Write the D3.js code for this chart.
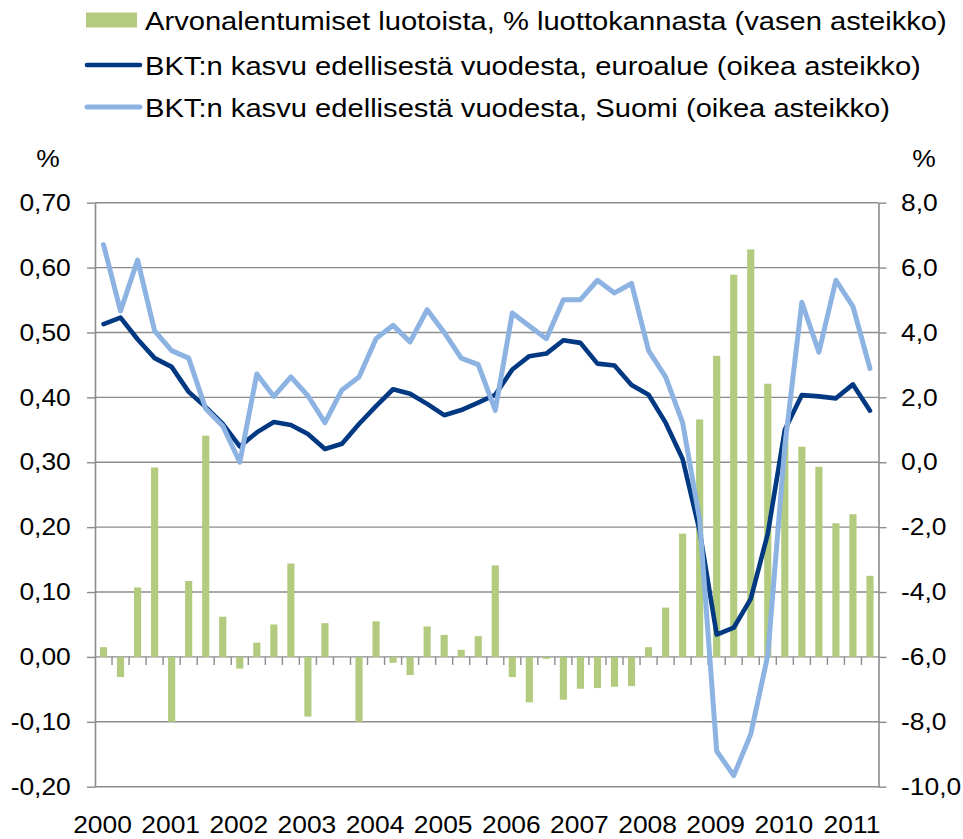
<!DOCTYPE html>
<html>
<head>
<meta charset="utf-8">
<script src="https://cdn.jsdelivr.net/npm/d3@7"></script>
<style>
  body { margin: 0; background: #fff; }
  text { font-family: "Liberation Sans", Arial, sans-serif; fill: #000; }
</style>
</head>
<body>
<div id="chart"></div>
<script>
var w = 963;
var h = 839;

// quarters 2000Q1 .. 2011Q2
var years = [2000, 2001, 2002, 2003, 2004, 2005, 2006, 2007, 2008, 2009, 2010, 2011];
var quarters = ["Q1", "Q2", "Q3", "Q4"];
var categories = years.flatMap(function(y) {
	return quarters.map(function(q) { return y + q; });
}).slice(0, 46);

// Arvonalentumiset luotoista, % luottokannasta (vasen asteikko)
var impairments = [0.015, -0.031, 0.107, 0.292, -0.100, 0.117, 0.341, 0.062,
	-0.018, 0.022, 0.050, 0.144, -0.092, 0.052, 0.000, -0.100,
	0.055, -0.009, -0.028, 0.047, 0.034, 0.011, 0.032, 0.141,
	-0.031, -0.070, -0.003, -0.066, -0.049, -0.048, -0.046, -0.045,
	0.015, 0.076, 0.190, 0.366, 0.464, 0.589, 0.628, 0.421,
	0.340, 0.324, 0.293, 0.206, 0.220, 0.125];

// BKT:n kasvu, euroalue (oikea asteikko)
var gdpEuro = [4.26, 4.46, 3.79, 3.21, 2.94, 2.17, 1.70, 1.18,
	0.49, 0.92, 1.24, 1.15, 0.87, 0.41, 0.57, 1.18,
	1.73, 2.25, 2.11, 1.80, 1.45, 1.61, 1.84, 2.08,
	2.86, 3.27, 3.35, 3.76, 3.68, 3.04, 2.98, 2.38,
	2.08, 1.22, 0.10, -2.12, -5.31, -5.10, -4.21, -2.20,
	1.00, 2.07, 2.03, 1.97, 2.40, 1.59];

// BKT:n kasvu, Suomi (oikea asteikko)
var gdpFinland = [6.71, 4.66, 6.23, 4.05, 3.44, 3.21, 1.65, 1.12,
	0.00, 2.72, 2.03, 2.63, 2.05, 1.22, 2.23, 2.63,
	3.81, 4.22, 3.71, 4.70, 4.00, 3.21, 3.01, 1.60,
	4.60, 4.20, 3.81, 5.01, 5.01, 5.61, 5.22, 5.51,
	3.44, 2.63, 1.22, -1.77, -8.90, -9.66, -8.38, -5.95,
	0.50, 4.93, 3.39, 5.61, 4.80, 2.89];

var leftTicks = [-0.2, -0.1, 0, 0.1, 0.2, 0.3, 0.4, 0.5, 0.6, 0.7];
var rightTicks = [-10, -8, -6, -4, -2, 0, 2, 4, 6, 8];

var legendLabels = [
	"Arvonalentumiset luotoista, % luottokannasta (vasen asteikko)",
	"BKT:n kasvu edellisestä vuodesta, euroalue (oikea asteikko)",
	"BKT:n kasvu edellisestä vuodesta, Suomi (oikea asteikko)"
];

var green = "#b3cb7f";
var darkBlue = "#003882";
var lightBlue = "#8db3e2";
var gridColor = "#8c8c8c";
var sx = 1.1; // text in the picture is a bit wide

var plotL = 95, plotR = 878.5, plotT = 202.7, plotB = 786.7;

var locale = d3.formatLocale({decimal: ",", thousands: " ", grouping: [3], currency: ["", ""], minus: "-"});
var fmtL = locale.format(".2f");
var fmtR = locale.format(".1f");

var x = d3.scaleBand()
	.domain(categories)
	.range([plotL, plotR])
	.paddingInner(0.58)
	.paddingOuter(0.29);
var step = x.step();

var yL = d3.scaleLinear().domain([-0.2, 0.7]).range([plotB, plotT]);
var yR = d3.scaleLinear().domain([-10, 8]).range([plotB, plotT]);

var svg = d3.select("#chart")
	.append("svg")
	.attr("width", w)
	.attr("height", h);

// gridlines
svg.append("g")
	.selectAll("line")
	.data(leftTicks)
	.enter()
	.append("line")
	.attr("x1", plotL)
	.attr("x2", plotR)
	.attr("y1", function(d) { return yL(d); })
	.attr("y2", function(d) { return yL(d); })
	.attr("stroke", gridColor)
	.attr("stroke-width", 1.4);

// bars
svg.append("g")
	.selectAll("rect")
	.data(impairments)
	.enter()
	.append("rect")
	.attr("x", function(d, i) { return x(categories[i]); })
	.attr("width", x.bandwidth())
	.attr("y", function(d) { return Math.min(yL(d), yL(0)); })
	.attr("height", function(d) { return Math.abs(yL(d) - yL(0)); })
	.attr("fill", green);

// category tick marks below the zero line
svg.append("g")
	.selectAll("line")
	.data(categories.slice(0, categories.length - 1))
	.enter()
	.append("line")
	.attr("x1", function(d) { return x(d) + x.bandwidth() / 2 + step / 2; })
	.attr("x2", function(d) { return x(d) + x.bandwidth() / 2 + step / 2; })
	.attr("y1", yL(0))
	.attr("y2", yL(0) + 8)
	.attr("stroke", gridColor)
	.attr("stroke-width", 1.4);

// year labels
svg.append("g")
	.selectAll("text")
	.data(years)
	.enter()
	.append("text")
	.attr("transform", function(d) {
		return "translate(" + (x(d + "Q1") + x.bandwidth() / 2 - 1) + ",833) scale(" + sx + ",1)";
	})
	.attr("text-anchor", "middle")
	.attr("font-size", "24px")
	.text(function(d) { return d; });

// axes
var axisL = svg.append("g")
	.attr("transform", "translate(" + plotL + ",0)")
	.call(d3.axisLeft(yL).tickValues(leftTicks).tickFormat(fmtL).tickSize(8).tickSizeOuter(0).tickPadding(14));
var axisR = svg.append("g")
	.attr("transform", "translate(" + plotR + ",0)")
	.call(d3.axisRight(yR).tickValues(rightTicks).tickFormat(fmtR).tickSize(8).tickSizeOuter(0).tickPadding(12.5));

[axisL, axisR].forEach(function(a) {
	a.select(".domain").attr("stroke", gridColor).attr("stroke-width", 1.6);
	a.selectAll(".tick line").attr("stroke", gridColor).attr("stroke-width", 1.4);
	a.selectAll(".tick text")
		.attr("font-size", "24px")
		.attr("font-family", "Liberation Sans, Arial, sans-serif")
		.attr("fill", "#000")
		.attr("transform", "scale(" + sx + ",1)");
});

// % units
svg.append("text")
	.attr("transform", "translate(48,167) scale(" + sx + ",1)")
	.attr("text-anchor", "middle")
	.attr("font-size", "24px")
	.text("%");
svg.append("text")
	.attr("transform", "translate(924,167) scale(" + sx + ",1)")
	.attr("text-anchor", "middle")
	.attr("font-size", "24px")
	.text("%");

// lines
var lineGen = d3.line()
	.x(function(d, i) { return x(categories[i]) + x.bandwidth() / 2; })
	.y(function(d) { return yR(d); });

svg.append("path")
	.datum(gdpEuro)
	.attr("d", lineGen)
	.attr("fill", "none")
	.attr("stroke", darkBlue)
	.attr("stroke-width", 4.6)
	.attr("stroke-linejoin", "round")
	.attr("stroke-linecap", "round");

svg.append("path")
	.datum(gdpFinland)
	.attr("d", lineGen)
	.attr("fill", "none")
	.attr("stroke", lightBlue)
	.attr("stroke-width", 5)
	.attr("stroke-linejoin", "round")
	.attr("stroke-linecap", "round");

// legend
var legendY = [20, 65, 107];
var legend = svg.append("g");

legend.append("rect")
	.attr("x", 86)
	.attr("y", legendY[0] - 7.5)
	.attr("width", 51)
	.attr("height", 15)
	.attr("fill", green);

legend.append("line")
	.attr("x1", 87).attr("x2", 140)
	.attr("y1", legendY[1]).attr("y2", legendY[1])
	.attr("stroke", darkBlue)
	.attr("stroke-width", 4.6)
	.attr("stroke-linecap", "round");

legend.append("line")
	.attr("x1", 87).attr("x2", 140)
	.attr("y1", legendY[2]).attr("y2", legendY[2])
	.attr("stroke", lightBlue)
	.attr("stroke-width", 5)
	.attr("stroke-linecap", "round");

legend.selectAll("text")
	.data(legendLabels)
	.enter()
	.append("text")
	.attr("transform", function(d, i) {
		return "translate(145," + (legendY[i] + 9.5) + ") scale(" + sx + ",1)";
	})
	.attr("font-size", "26.5px")
	.text(function(d) { return d; });
</script>
</body>
</html>
